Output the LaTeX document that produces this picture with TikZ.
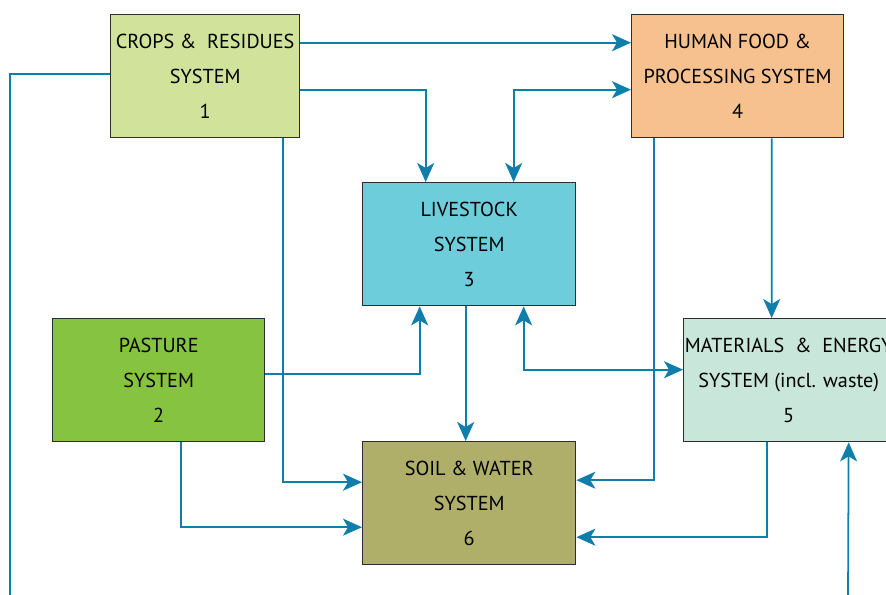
\documentclass[tikz,border=0pt]{standalone}
\usepackage{fontspec}
\setmainfont{PT Sans}
\usetikzlibrary{arrows.meta}
\definecolor{flowblue}{RGB}{16,126,170}
\definecolor{boxline}{RGB}{45,45,45}
\definecolor{cropsfill}{RGB}{209,227,155}
\definecolor{pasturefill}{RGB}{134,195,64}
\definecolor{livefill}{RGB}{110,205,219}
\definecolor{foodfill}{RGB}{246,193,142}
\definecolor{matfill}{RGB}{200,230,218}
\definecolor{soilfill}{RGB}{175,175,106}

\begin{document}
\begin{tikzpicture}[
			x=0.02cm, y=-0.02cm,
			sys/.style={rectangle,draw=boxline,line width=0.8pt,anchor=north west,
				minimum height=2.46cm,inner sep=0pt,align=center,
				font=\fontsize{11.5}{19.8}\selectfont},
			flow/.style={draw=flowblue,line width=1pt,
				-{Stealth[length=0.38cm,width=0.34cm,inset=0.1cm]}},
			both/.style={flow,{Stealth[length=0.38cm,width=0.34cm,inset=0.1cm]}-{Stealth[length=0.38cm,width=0.34cm,inset=0.1cm]}},
			plain/.style={draw=flowblue,line width=1pt}
		]
		\useasboundingbox (0,0) rectangle (886,595);

		% systems
		\node[sys,fill=cropsfill,minimum width=3.78cm] (crops) at (110,14) {CROPS \&~ RESIDUES\\SYSTEM\\1};
		\node[sys,fill=foodfill,minimum width=4.24cm] (food) at (631,14) {HUMAN FOOD \&\\PROCESSING SYSTEM\\4};
		\node[sys,fill=livefill,minimum width=4.26cm] (live) at (362,182) {LIVESTOCK\\SYSTEM\\3};
		\node[sys,fill=pasturefill,minimum width=4.24cm] (past) at (52,318) {PASTURE\\SYSTEM\\2};
		\node[sys,fill=matfill,minimum width=4.2cm] (mat) at (683,318) {MATERIALS ~\&~ ENERGY\\SYSTEM (incl. waste)\\5};
		\node[sys,fill=soilfill,minimum width=4.26cm] (soil) at (362,441) {SOIL \& WATER\\SYSTEM\\6};

		% loose ends at the bottom edge
		\coordinate (outleft) at (10,600);
		\coordinate (inright) at (848,600);

		% flows
		\draw[flow] ([yshift=0.67cm]crops.east) -- ([yshift=0.67cm]food.west);
		\draw[flow] ([yshift=-0.27cm]crops.east) -| ([xshift=-0.87cm]live.north);
		\draw[both] ([xshift=0.89cm]live.north) |- ([yshift=-0.27cm]food.west);
		\draw[flow] ([xshift=1.55cm]crops.south) |- ([yshift=0.42cm]soil.west);
		\draw[plain] ([yshift=0.05cm]crops.west) -| (outleft);
		\draw[flow] ([yshift=0.13cm]past.east) -| ([xshift=-0.99cm]live.south);
		\draw[flow] ([xshift=0.44cm]past.south) |- ([yshift=-0.48cm]soil.west);
		\draw[flow] ([xshift=-0.07cm]live.south) -- ([xshift=-0.07cm]soil.north);
		\draw[both] ([xshift=1.09cm]live.south) |- ([yshift=0.21cm]mat.west);
		\draw[flow] ([xshift=-1.68cm]food.south) |- ([yshift=0.46cm]soil.east);
		\draw[flow] ([xshift=0.68cm]food.south) -- ([xshift=-0.34cm]mat.north);
		\draw[flow] ([xshift=-0.44cm]mat.south) |- ([yshift=-0.68cm]soil.east);
		\draw[flow] (inright) -- ([xshift=1.2cm]mat.south);
	\end{tikzpicture}
\end{document}
